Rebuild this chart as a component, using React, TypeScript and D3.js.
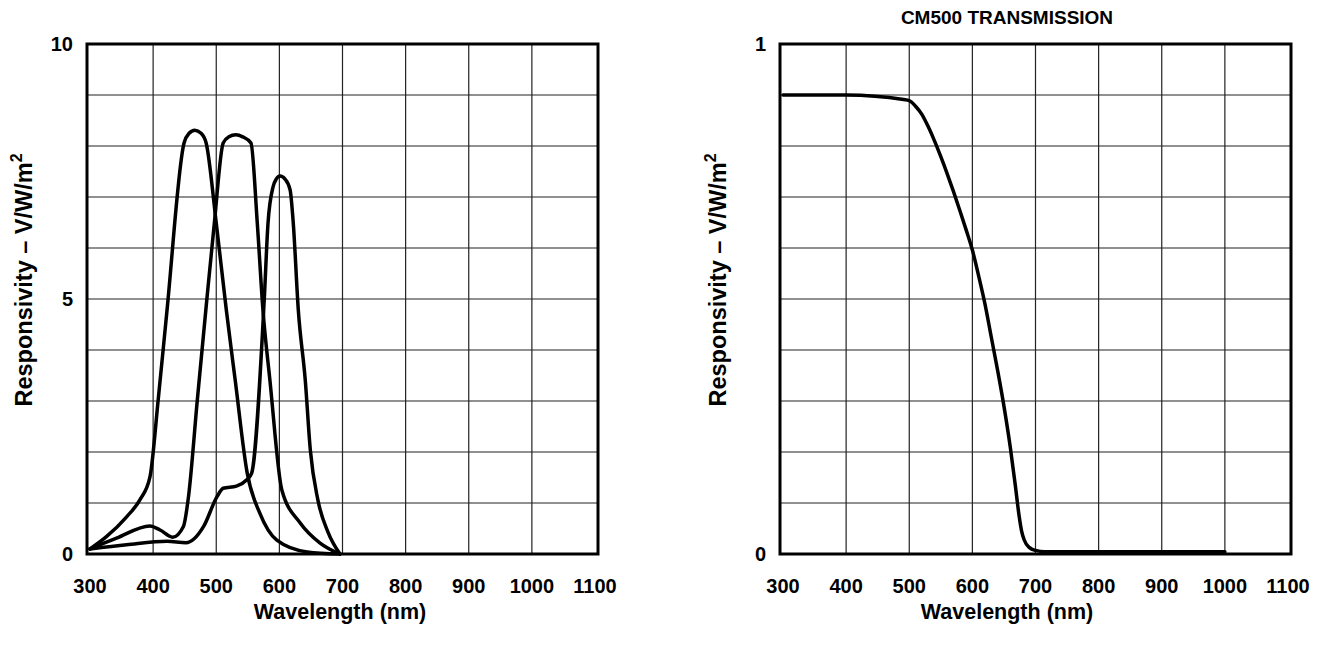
import React from "react";
import * as d3 from "d3";

// ---------- data ----------
const wavelengthTicks = [300, 400, 500, 600, 700, 800, 900, 1000, 1100];
const leftYLabels = [0, 5, 10];
const leftGridValues = [1, 2, 3, 4, 5, 6, 7, 8, 9];
const rightYLabels = [0, 1];
const rightGridValues = [0.1, 0.2, 0.3, 0.4, 0.5, 0.6, 0.7, 0.8, 0.9];

// responsivity curves (wavelength nm, V/W/m2)
const blueResponse: [number, number][] = [
  [300, 0.1], [326, 0.34], [358, 0.73], [379, 1.06], [395, 1.51], [408, 3.02],
  [422, 4.78], [449, 8.06], [457, 8.25], [466, 8.31], [476, 8.25], [484, 8.06],
  [500, 6.49], [516, 4.78], [530, 3.41], [549, 1.59], [569, 0.8], [596, 0.27],
  [644, 0.04], [696, 0],
];
const greenResponse: [number, number][] = [
  [300, 0.1], [342, 0.31], [395, 0.55], [411, 0.47], [431, 0.33], [448, 0.54],
  [456, 1.12], [470, 3.02], [485, 4.98], [497, 6.49], [511, 8.06], [520, 8.18],
  [531, 8.22], [542, 8.18], [555, 8.06], [565, 6.49], [574, 4.78], [585, 3.41],
  [604, 1.25], [633, 0.61], [664, 0.22], [696, 0],
];
const redResponse: [number, number][] = [
  [300, 0.1], [358, 0.18], [422, 0.25], [452, 0.22], [480, 0.54], [501, 1.12],
  [511, 1.29], [532, 1.33], [548, 1.45], [556, 1.58], [576, 4.98], [582, 6.49],
  [590, 7.2], [595, 7.35], [601, 7.41], [609, 7.35], [617, 7.14], [622, 6.49],
  [630, 4.78], [641, 3.41], [649, 2.04], [661, 1.06], [677, 0.43], [696, 0],
];
// CM500 transmission
const transmission: [number, number][] = [
  [300, 0.9], [400, 0.9], [491, 0.891], [500, 0.889], [510, 0.878], [520, 0.862],
  [530, 0.838], [540, 0.81], [550, 0.779], [560, 0.746], [570, 0.711],
  [580, 0.674], [590, 0.636], [600, 0.596], [610, 0.545], [620, 0.49],
  [630, 0.425], [640, 0.36], [650, 0.29], [660, 0.21], [668, 0.135],
  [674, 0.075], [678, 0.045], [682, 0.028], [690, 0.013], [700, 0.007],
  [715, 0.0045], [1000, 0.0045],
];

// ---------- layout ----------
const W = 1335;
const H = 654;
const FONT = "'Liberation Sans', Arial, Helvetica, sans-serif";
const TOP = 44;
const BOTTOM = 554;
const PLOT_W = 511;

type PanelProps = {
  left: number;
  yMax: number;
  yLabels: number[];
  gridValues: number[];
  series: [number, number][][];
  yTitleX: number;
  xTitleX: number;
};

function Panel({ left, yMax, yLabels, gridValues, series, yTitleX, xTitleX }: PanelProps) {
  const right = left + PLOT_W;
  const x = d3.scaleLinear().domain([300, 1100]).range([left + 3, right - 3]);
  const y = d3.scaleLinear().domain([0, yMax]).range([BOTTOM, TOP]);
  const line = d3
    .line<[number, number]>()
    .x((d) => x(d[0]))
    .y((d) => y(d[1]))
    .curve(d3.curveMonotoneX);
  const innerTicks = wavelengthTicks.slice(1, -1);
  return (
    <g>
      {gridValues.map((v) => (
        <line key={"h" + v} x1={left} x2={right} y1={y(v)} y2={y(v)} stroke="#222" strokeWidth={1.2} />
      ))}
      {innerTicks.map((t) => (
        <line key={"v" + t} x1={x(t)} x2={x(t)} y1={TOP} y2={BOTTOM} stroke="#222" strokeWidth={1.2} />
      ))}
      {series.map((s, i) => (
        <path key={i} d={line(s) || ""} fill="none" stroke="#000" strokeWidth={3.5}
          strokeLinejoin="round" strokeLinecap="round" />
      ))}
      <rect x={left} y={TOP} width={PLOT_W} height={BOTTOM - TOP} fill="none" stroke="#000" strokeWidth={3} />
      {yLabels.map((v) => (
        <text key={"yl" + v} x={left - 14} y={y(v)} textAnchor="end" dominantBaseline="central"
          fontSize={20} fontWeight="bold" fontFamily={FONT}>
          {v}
        </text>
      ))}
      {wavelengthTicks.map((t) => (
        <text key={"xl" + t} x={x(t)} y={593} textAnchor="middle"
          fontSize={20} fontWeight="bold" fontFamily={FONT}>
          {t}
        </text>
      ))}
      <text x={xTitleX} y={619} textAnchor="middle" fontSize={21.5} fontWeight="bold" fontFamily={FONT}>
        Wavelength (nm)
      </text>
      <text transform={`translate(${yTitleX},280) rotate(-90)`} textAnchor="middle"
        fontSize={23.5} fontWeight="bold" fontFamily={FONT}>
        Responsivity – V/W/m
        <tspan fontSize={16} dy={-10}>2</tspan>
      </text>
    </g>
  );
}

export default function App() {
  return (
    <svg width={W} height={H} viewBox={`0 0 ${W} ${H}`}
      style={{ position: "absolute", left: 0, top: 0, background: "#fff" }}>
      <rect x={0} y={0} width={W} height={H} fill="#fff" />
      <Panel left={87} yMax={10} yLabels={leftYLabels} gridValues={leftGridValues}
        series={[blueResponse, greenResponse, redResponse]} yTitleX={32} xTitleX={340} />
      <Panel left={780} yMax={1} yLabels={rightYLabels} gridValues={rightGridValues}
        series={[transmission]} yTitleX={726} xTitleX={1007} />
      <text x={1007} y={24} textAnchor="middle" fontSize={19} fontWeight="bold" fontFamily={FONT}>
        CM500 TRANSMISSION
      </text>
    </svg>
  );
}
